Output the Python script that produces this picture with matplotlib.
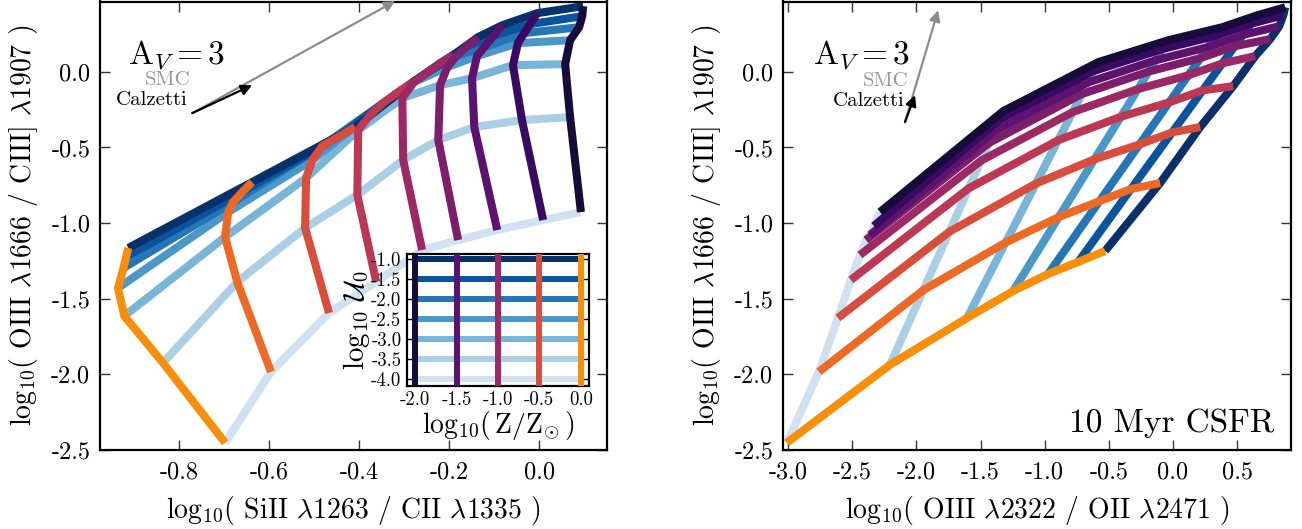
import numpy as np
import matplotlib
matplotlib.use("Agg")
import matplotlib.pyplot as plt
from matplotlib import cm

plt.rcParams['font.family'] = 'serif'
plt.rcParams['font.serif'] = ['cmr10', 'DejaVu Serif']
plt.rcParams['mathtext.fontset'] = 'cm'
plt.rcParams['axes.unicode_minus'] = False
plt.rcParams['axes.formatter.use_mathtext'] = False

# ---- grid parameters ----
logZ = [-2.0, -1.75, -1.5, -1.25, -1.0, -0.75, -0.5, -0.25, 0.0]
logU = [-1.0, -1.5, -2.0, -2.5, -3.0, -3.5, -4.0]
inset_Z = [-2.0, -1.5, -1.0, -0.5, 0.0]

# ---- left panel: rows = logZ, columns = logU ----
left_x = [
    [0.098, 0.096, 0.089, 0.069, 0.058, 0.069, 0.093],
    [-0.004, -0.020, -0.033, -0.047, -0.058, -0.038, 0.009],
    [-0.082, -0.102, -0.122, -0.138, -0.149, -0.144, -0.093],
    [-0.136, -0.160, -0.184, -0.204, -0.220, -0.224, -0.180],
    [-0.191, -0.220, -0.247, -0.278, -0.304, -0.302, -0.260],
    [-0.280, -0.313, -0.347, -0.376, -0.402, -0.404, -0.362],
    [-0.409, -0.447, -0.482, -0.504, -0.518, -0.520, -0.467],
    [-0.638, -0.660, -0.680, -0.691, -0.698, -0.671, -0.596],
    [-0.913, -0.918, -0.924, -0.936, -0.922, -0.836, -0.698],
]
left_y = [
    [0.434, 0.368, 0.295, 0.209, 0.051, -0.300, -0.927],
    [0.388, 0.315, 0.256, 0.190, 0.044, -0.319, -0.980],
    [0.308, 0.236, 0.163, 0.104, -0.042, -0.365, -1.046],
    [0.229, 0.170, 0.104, 0.031, -0.088, -0.451, -1.112],
    [0.110, 0.057, -0.002, -0.068, -0.174, -0.583, -1.178],
    [-0.068, -0.134, -0.207, -0.286, -0.385, -0.814, -1.389],
    [-0.365, -0.431, -0.491, -0.583, -0.702, -1.032, -1.594],
    [-0.729, -0.795, -0.861, -0.927, -1.092, -1.389, -1.983],
    [-1.164, -1.224, -1.297, -1.429, -1.614, -1.924, -2.452],
]

# ---- right panel: rows = logU, columns = logZ ----
right_x = [
    [0.875, 0.860, 0.829, 0.758, 0.641, 0.470, 0.212, -0.100, -0.529],
    [0.657, 0.608, 0.545, 0.482, 0.385, 0.231, -0.006, -0.328, -0.739],
    [0.384, 0.336, 0.275, 0.215, 0.119, -0.030, -0.261, -0.573, -0.973],
    [-0.037, -0.080, -0.134, -0.189, -0.273, -0.406, -0.612, -0.890, -1.246],
    [-0.583, -0.619, -0.665, -0.711, -0.782, -0.895, -1.069, -1.304, -1.605],
    [-1.324, -1.356, -1.395, -1.434, -1.496, -1.594, -1.743, -1.946, -2.206],
    [-2.284, -2.331, -2.362, -2.393, -2.440, -2.511, -2.612, -2.760, -3.010],
]
right_y = [
    [0.427, 0.374, 0.302, 0.216, 0.104, -0.094, -0.365, -0.735, -1.184],
    [0.374, 0.318, 0.244, 0.170, 0.056, -0.123, -0.400, -0.775, -1.257],
    [0.295, 0.238, 0.164, 0.091, -0.023, -0.202, -0.480, -0.855, -1.336],
    [0.209, 0.151, 0.077, 0.002, -0.114, -0.297, -0.578, -0.960, -1.449],
    [0.064, 0.005, -0.071, -0.147, -0.266, -0.452, -0.739, -1.128, -1.627],
    [-0.260, -0.318, -0.394, -0.470, -0.587, -0.771, -1.057, -1.443, -1.937],
    [-0.927, -1.019, -1.079, -1.112, -1.211, -1.376, -1.627, -1.983, -2.452],
]

# ---- dust vectors (tail, SMC tip, Calzetti tip) ----
left_tail, left_smc, left_calz = (-0.771, -0.273), (-0.32, 0.467), (-0.638, -0.088)
right_tail, right_smc, right_calz = (-2.089, -0.332), (-1.831, 0.407), (-2.011, -0.154)

# colours
zcols = [cm.inferno(v) for v in np.linspace(0.1, 0.75, len(logZ))]
ucols = [cm.Blues(v) for v in np.linspace(1.0, 0.2, len(logU))]
LW = 5.8

fig = plt.figure(figsize=(13.02, 5.29), dpi=100)
axL = fig.add_axes([100/1302, 79/529, 507/1302, 448.5/529])
axR = fig.add_axes([783/1302, 79/529, 508/1302, 448.5/529])
axI = fig.add_axes([407/1302, 143/529, 182/1302, 132/529])

LX = np.array(left_x); LY = np.array(left_y)
RX = np.array(right_x).T; RY = np.array(right_y).T   # -> rows = logZ

def draw_grid(ax, X, Y):
    for j in range(len(logU) - 1, -1, -1):
        ax.plot(X[:, j], Y[:, j], color=ucols[j], lw=LW, solid_capstyle='butt',
                solid_joinstyle='miter', zorder=2)
    for i in range(len(logZ) - 1, -1, -1):
        ax.plot(X[i], Y[i], color=zcols[i], lw=LW, solid_capstyle='butt',
                solid_joinstyle='miter', zorder=3)

draw_grid(axL, LX, LY)
draw_grid(axR, RX, RY)

def style(ax, xt, yt):
    ax.set_xticks(xt)
    ax.set_yticks(yt)
    ax.tick_params(direction='in', top=True, right=True, length=7, width=1,
                   color='#333333', labelsize=17.5)
    ax.tick_params(axis='x', pad=8)
    ax.tick_params(axis='y', pad=7)
    for s in ax.spines.values():
        s.set_linewidth(1.6)

XLAB_L = r'$\mathrm{log}_{10}($ SiII $\lambda1263$ / CII $\lambda1335$ )'
XLAB_R = r'$\mathrm{log}_{10}($ OIII $\lambda2322$ / OII $\lambda2471$ )'
YLAB = r'$\mathrm{log}_{10}($ OIII $\lambda1666$ / CIII] $\lambda1907$ )'

axL.set_xlim(-0.976, 0.151)
axL.set_ylim(-2.5, 0.465)
style(axL, [-0.8, -0.6, -0.4, -0.2, 0.0], [-2.5, -2.0, -1.5, -1.0, -0.5, 0.0])
axL.set_xlabel(XLAB_L, fontsize=20, labelpad=8)
axL.set_ylabel(YLAB, fontsize=20, labelpad=8)

axR.set_xlim(-3.04, 0.92)
axR.set_ylim(-2.5, 0.465)
style(axR, [-3.0, -2.5, -2.0, -1.5, -1.0, -0.5, 0.0, 0.5], [-2.5, -2.0, -1.5, -1.0, -0.5, 0.0])
axR.set_xlabel(XLAB_R, fontsize=20, labelpad=8)
axR.set_ylabel(YLAB, fontsize=20, labelpad=8)

# dust vectors and labels
for ax, tail, smc, calz, tx, ty in [
        (axL, left_tail, left_smc, left_calz, 0.055, 0.862),
        (axR, right_tail, right_smc, right_calz, 0.06, 0.862)]:
    ax.annotate('', xy=smc, xytext=tail, annotation_clip=False,
                arrowprops=dict(arrowstyle='-|>', color='#8c8c8c', lw=1.6,
                                mutation_scale=16, shrinkA=0, shrinkB=0))
    ax.annotate('', xy=calz, xytext=tail,
                arrowprops=dict(arrowstyle='-|>', color='black', lw=1.6,
                                mutation_scale=16, shrinkA=0, shrinkB=0))
    ax.text(tx, ty, r'$\mathrm{A}_V = 3$', transform=ax.transAxes, fontsize=24,
            ha='left', va='baseline')

axL.text(-0.774, -0.055, 'SMC', color='#999999', fontsize=15, ha='right', va='center')
axL.text(-0.782, -0.185, 'Calzetti', color='black', fontsize=15, ha='right', va='center')
axR.text(-2.06, -0.060, 'SMC', color='#999999', fontsize=15, ha='right', va='center')
axR.text(-2.09, -0.190, 'Calzetti', color='black', fontsize=15, ha='right', va='center')
axR.text(0.968, 0.04, '10 Myr CSFR', transform=axR.transAxes, fontsize=24,
         ha='right', va='baseline')

# inset legend grid
LWI = 4.3
for j in range(len(logU)):
    axI.plot([inset_Z[0], inset_Z[-1]], [logU[j], logU[j]], color=ucols[j], lw=LWI,
             solid_capstyle='butt', zorder=2)
for k, z in enumerate(inset_Z):
    i = logZ.index(z)
    axI.plot([z, z], [-4.17, -0.875], color=zcols[i], lw=LWI, solid_capstyle='butt', zorder=3)
axI.set_xlim(-2.1, 0.1)
axI.set_ylim(-4.17, -0.875)
axI.set_xticks([-2.0, -1.5, -1.0, -0.5, 0.0])
axI.set_yticks([-1.0, -1.5, -2.0, -2.5, -3.0, -3.5, -4.0])
axI.tick_params(direction='in', top=True, right=True, length=5, width=1,
                color='black', labelsize=13.5, pad=4)
for s in axI.spines.values():
    s.set_linewidth(1.6)
axI.set_xlabel(r'$\mathrm{log}_{10}(\,\mathrm{Z/Z}_{\odot}\,)$', fontsize=20, labelpad=0)
axI.set_ylabel(r'$\mathrm{log}_{10}\ \mathcal{U}_0$', fontsize=21, labelpad=-1)
axI.patch.set_facecolor('white')

fig.savefig('out.png', dpi=100)
